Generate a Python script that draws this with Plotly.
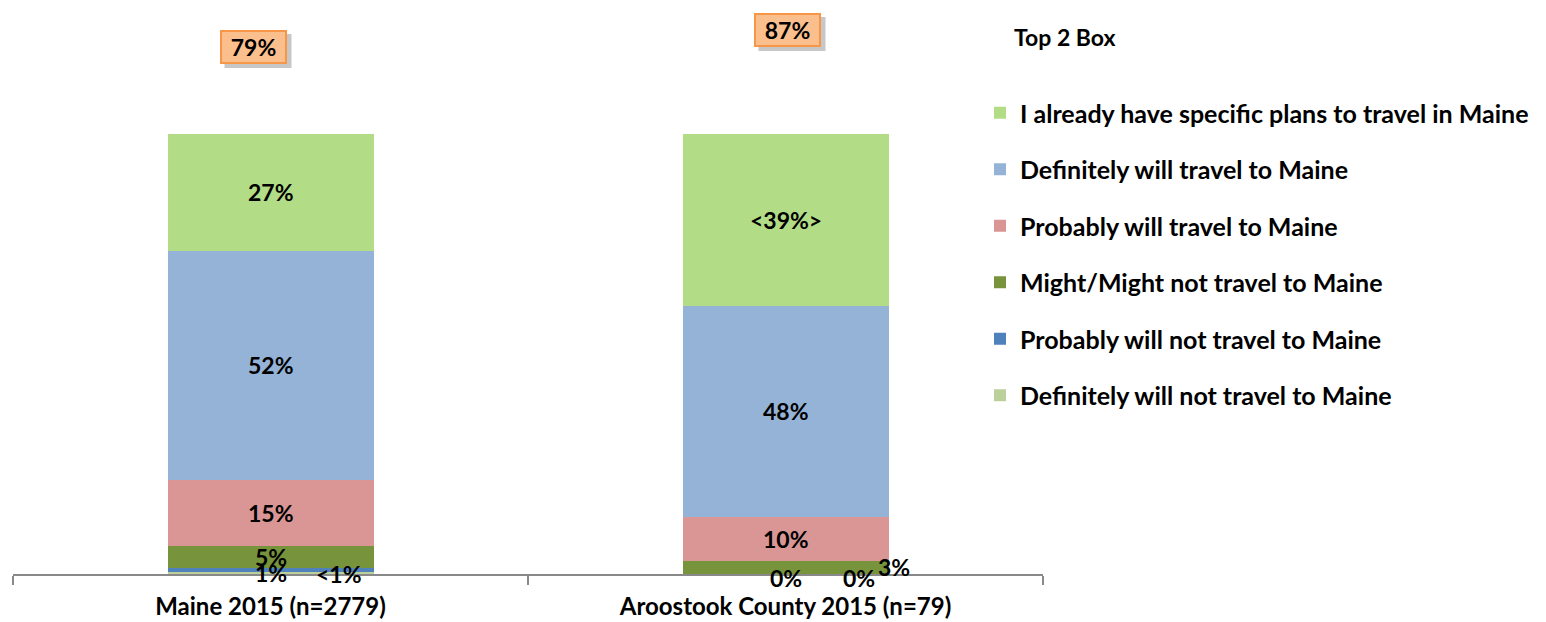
import plotly.graph_objects as go

categories = ["Maine 2015 (n=2779)", "Aroostook County 2015 (n=79)"]
series_names = [
    "Definitely will not travel to Maine",
    "Probably will not travel to Maine",
    "Might/Might not travel to Maine",
    "Probably will travel to Maine",
    "Definitely will travel to Maine",
    "I already have specific plans to travel in Maine",
]
definitely_not = [0.4, 0]
probably_not = [1, 0]
might = [5, 3]
probably_will = [15, 10]
definitely_will = [52, 48]
already_plans = [27, 39]

label_definitely_not = ["<1%", "0%"]
label_probably_not = ["1%", "0%"]
label_might = ["5%", "3%"]
label_probably_will = ["15%", "10%"]
label_definitely_will = ["52%", "48%"]
label_already_plans = ["27%", "<39%>"]

top2_box = [79, 87]
top2_labels = ["79%", "87%"]

values = [definitely_not, probably_not, might, probably_will, definitely_will, already_plans]
labels = [label_definitely_not, label_probably_not, label_might, label_probably_will,
          label_definitely_will, label_already_plans]
colors = ["#BBD09A", "#4F81BD", "#77933C", "#D99694", "#95B3D7", "#B3DC86"]

FONT = "Lato"
W, H = 1546, 622
OFF = 8  # page body margin
ML, MR, MT, MB = 13 - OFF, W - (1043 - OFF), 134 - OFF, H - (574 - OFF)
pw, ph = W - ML - MR, H - MT - MB


def px_to_paper_x(sx):
    return (sx - OFF - ML) / pw


def px_to_paper_y(sy):
    return (H - MB - (sy - OFF)) / ph


fig = go.Figure()
for i, (name, vals, col) in enumerate(zip(series_names, values, colors)):
    fig.add_trace(go.Bar(
        x=categories, y=vals, name=name, marker=dict(color=col, line=dict(width=0)),
        width=0.4, legendgroup="g%d" % (9 - i), legendrank=100 - i, hoverinfo="skip",
    ))

# label offsets (px) for small, moved labels: (series index, category index) -> (xshift, yshift)
offsets = {
    (0, 0): (68, -1), (1, 0): (0, -3),
    (0, 1): (0, -4), (1, 1): (73, -4), (2, 1): (108, 0),
}
annotations = []
for ci, cat in enumerate(categories):
    cum = 0
    for si in range(len(values)):
        v = values[si][ci]
        mid = cum + v / 2
        cum += v
        xs, ys = offsets.get((si, ci), (0, 0))
        annotations.append(dict(
            x=cat, y=mid, xref="x", yref="y", text="<b>%s</b>" % labels[si][ci],
            showarrow=False, xshift=xs, yshift=ys,
            font=dict(family=FONT, size=23, color="black"),
        ))

# Top 2 Box callouts (screen-pixel centre y, x shift from bar centre)
box_pos = [(47, -17), (30, 2)]
shapes = []
for ci, cat in enumerate(categories):
    sy, xs = box_pos[ci]
    py = px_to_paper_y(sy)
    shapes.append(dict(
        type="rect", xref="x", yref="paper", xsizemode="pixel", ysizemode="pixel",
        xanchor=cat, yanchor=py, x0=xs - 33 + 4, x1=xs + 34 + 4, y0=-17 - 4, y1=17 - 4,
        fillcolor="rgba(0,0,0,0.22)", line=dict(width=0), layer="above",
    ))
    annotations.append(dict(
        x=cat, y=py, xref="x", yref="paper", text="<b>%s</b>" % top2_labels[ci],
        showarrow=False, xshift=xs, yanchor="middle",
        font=dict(family=FONT, size=23, color="black"),
        bgcolor="#FBBF8E", bordercolor="#F79646", borderwidth=2, borderpad=2,
        width=59, height=26,
    ))

annotations.append(dict(
    x=px_to_paper_x(1012), y=px_to_paper_y(37), xref="paper", yref="paper",
    text="<b>Top 2 Box</b>", showarrow=False,
    font=dict(family=FONT, size=23, color="black"),
    xanchor="left", yanchor="middle",
))

fig.update_layout(
    width=W, height=H, barmode="stack",
    margin=dict(l=ML, r=MR, t=MT, b=MB),
    paper_bgcolor="white", plot_bgcolor="white",
    font=dict(family=FONT, size=23, color="black"),
    showlegend=True, shapes=shapes,
    legend=dict(
        x=px_to_paper_x(980), y=px_to_paper_y(90), xanchor="left", yanchor="top",
        traceorder="grouped", tracegroupgap=21, maxheight=600,
        font=dict(family=FONT, size=25, color="black", weight="bold"),
        bgcolor="rgba(0,0,0,0)",
    ),
    annotations=annotations,
    xaxis=dict(
        showline=True, linecolor="#898989", linewidth=2,
        ticks="outside", ticklen=9, tickwidth=2, tickcolor="#898989",
        tickson="boundaries", showgrid=False, ticklabelstandoff=10,
        tickfont=dict(family=FONT, size=24, color="black", weight="bold"),
        range=[-0.5, 1.5],
    ),
    yaxis=dict(range=[0, 100], visible=False, showgrid=False),
)

fig.write_html("out.html")
